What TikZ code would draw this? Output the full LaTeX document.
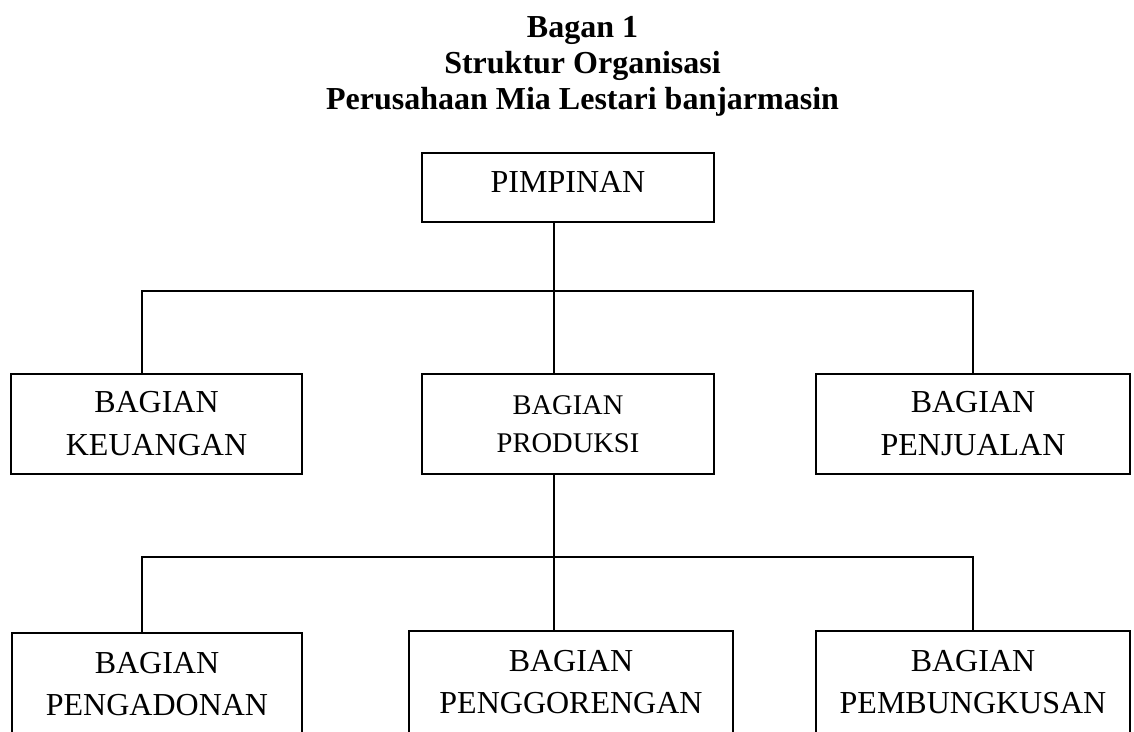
\documentclass[tikz,border=0pt]{standalone}
\usepackage{fontspec}
\setmainfont{Liberation Serif}
\usepackage{tikz}

\tikzset{
	kotak/.style={draw, line width=1.8pt, align=center, inner sep=0pt, font=\fontsize{32}{43}\selectfont},
	kotakbawah/.style={kotak, font=\fontsize{32}{42}\selectfont, minimum height=118pt, text depth=17pt},
	garis/.style={line width=1.4pt},
	judul/.style={anchor=base, font=\bfseries\fontsize{32}{36}\selectfont}
}

\begin{document}
\begin{tikzpicture}[x=1pt, y=-1pt]
	\useasboundingbox (0,0) rectangle (1134,731); 
	\clip (0,0) rectangle (1134,731); 
	\node[judul] (judulA) at (582.5,37) {Bagan 1}; 
	\node[judul] (judulB) at (582.5,73) {Struktur Organisasi}; 
	\node[judul] (judulC) at (582.5,109) {Perusahaan Mia Lestari banjarmasin}; 
	\node[kotak, minimum width=292pt, minimum height=69pt, text depth=10.4pt] (pimpinan) at (568,187.5) {PIMPINAN}; 
	\node[kotak, minimum width=291pt, minimum height=100pt] (keuangan) at (156.5,424) {BAGIAN\\KEUANGAN}; 
	\node[kotak, minimum width=292pt, minimum height=100pt, font=\fontsize{28.5}{38}\selectfont] (produksi) at (568,424) {BAGIAN\\PRODUKSI}; 
	\node[kotak, minimum width=314pt, minimum height=100pt] (penjualan) at (973,424) {BAGIAN\\PENJUALAN}; 
	\node[kotakbawah, minimum width=290pt] (pengadonan) at (157,692) {BAGIAN\\PENGADONAN}; 
	\node[kotakbawah, minimum width=324pt] (penggorengan) at (571,690) {BAGIAN\\PENGGORENGAN}; 
	\node[kotakbawah, minimum width=314pt] (pembungkusan) at (973,690) {BAGIAN\\PEMBUNGKUSAN}; 
	\coordinate (atasKiri) at (142,291); 
	\coordinate (atasTengah) at (554,291); 
	\coordinate (atasKanan) at (973,291); 
	\coordinate (bawahKiri) at (142,557); 
	\coordinate (bawahTengah) at (554,557); 
	\coordinate (bawahKanan) at (973,557); 
	\draw[garis] (pimpinan.south -| atasTengah) -- (produksi.north -| atasTengah); 
	\draw[garis] (keuangan.north -| atasKiri) -- (atasKiri) -- (atasKanan) -- (penjualan.north -| atasKanan); 
	\draw[garis] (produksi.south -| bawahTengah) -- (penggorengan.north -| bawahTengah); 
	\draw[garis] (pengadonan.north -| bawahKiri) -- (bawahKiri) -- (bawahKanan) -- (pembungkusan.north -| bawahKanan); 
\end{tikzpicture}
\end{document}
